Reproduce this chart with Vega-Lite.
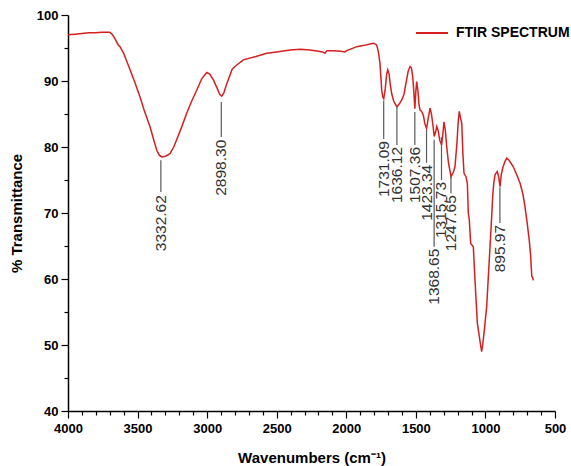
{
  "$schema": "https://vega.github.io/schema/vega-lite/v6.json",
  "width": 487,
  "height": 396,
  "autosize": {"type": "none"},
  "padding": {"left": 68, "top": 15, "right": 16, "bottom": 55},
  "background": "white",
  "config": {
    "view": {"stroke": null},
    "axis": {
      "grid": false,
      "domainColor": "black",
      "domainWidth": 1.5,
      "tickColor": "black",
      "tickWidth": 1.2,
      "labelFont": "Liberation Sans",
      "labelFontWeight": "bold",
      "labelFontSize": 13,
      "labelColor": "black",
      "labelFlush": false,
      "labelOverlap": false,
      "titleFont": "Liberation Sans",
      "titleFontWeight": "bold",
      "titleFontSize": 15,
      "titleColor": "black"
    }
  },
  "datasets": {
    "spectrum": [
      {"wn": 4000, "t": 97.0}, {"wn": 3950, "t": 97.1}, {"wn": 3900, "t": 97.2}, {"wn": 3850, "t": 97.3},
      {"wn": 3800, "t": 97.3}, {"wn": 3760, "t": 97.4}, {"wn": 3720, "t": 97.4}, {"wn": 3700, "t": 97.4},
      {"wn": 3680, "t": 97.0}, {"wn": 3660, "t": 96.3}, {"wn": 3640, "t": 95.5}, {"wn": 3626, "t": 95.2},
      {"wn": 3600, "t": 94.2}, {"wn": 3554, "t": 91.7}, {"wn": 3520, "t": 89.8}, {"wn": 3483, "t": 87.6},
      {"wn": 3450, "t": 85.4}, {"wn": 3411, "t": 83.1}, {"wn": 3380, "t": 80.8}, {"wn": 3362, "t": 79.5},
      {"wn": 3345, "t": 78.8}, {"wn": 3327, "t": 78.5}, {"wn": 3300, "t": 78.6}, {"wn": 3267, "t": 79.0},
      {"wn": 3240, "t": 80.0}, {"wn": 3219, "t": 81.1}, {"wn": 3180, "t": 83.2}, {"wn": 3147, "t": 85.1},
      {"wn": 3110, "t": 87.0}, {"wn": 3075, "t": 88.6}, {"wn": 3040, "t": 90.3}, {"wn": 3003, "t": 91.3},
      {"wn": 2980, "t": 91.0}, {"wn": 2956, "t": 90.2}, {"wn": 2930, "t": 89.0}, {"wn": 2910, "t": 88.0},
      {"wn": 2895, "t": 87.7}, {"wn": 2880, "t": 88.2}, {"wn": 2865, "t": 89.2}, {"wn": 2848, "t": 90.2},
      {"wn": 2820, "t": 91.8}, {"wn": 2800, "t": 92.2}, {"wn": 2740, "t": 93.2}, {"wn": 2650, "t": 93.7},
      {"wn": 2572, "t": 94.2}, {"wn": 2500, "t": 94.4}, {"wn": 2404, "t": 94.7}, {"wn": 2330, "t": 94.8},
      {"wn": 2261, "t": 94.7}, {"wn": 2200, "t": 94.5}, {"wn": 2170, "t": 94.4}, {"wn": 2153, "t": 94.2},
      {"wn": 2140, "t": 94.6}, {"wn": 2093, "t": 94.6}, {"wn": 2040, "t": 94.5}, {"wn": 2010, "t": 94.4},
      {"wn": 1997, "t": 94.6}, {"wn": 1960, "t": 94.9}, {"wn": 1925, "t": 95.2}, {"wn": 1870, "t": 95.4},
      {"wn": 1830, "t": 95.6}, {"wn": 1806, "t": 95.7}, {"wn": 1790, "t": 95.6}, {"wn": 1781, "t": 95.4},
      {"wn": 1770, "t": 94.5}, {"wn": 1758, "t": 92.7}, {"wn": 1745, "t": 88.5}, {"wn": 1738, "t": 87.6},
      {"wn": 1731, "t": 87.3}, {"wn": 1720, "t": 88.8}, {"wn": 1710, "t": 91.0}, {"wn": 1702, "t": 91.7},
      {"wn": 1692, "t": 91.0}, {"wn": 1684, "t": 89.5}, {"wn": 1674, "t": 88.1}, {"wn": 1660, "t": 87.0},
      {"wn": 1645, "t": 86.4}, {"wn": 1636, "t": 86.1}, {"wn": 1620, "t": 86.5}, {"wn": 1602, "t": 87.1},
      {"wn": 1585, "t": 88.0}, {"wn": 1570, "t": 89.8}, {"wn": 1555, "t": 91.5}, {"wn": 1542, "t": 92.2},
      {"wn": 1532, "t": 92.0}, {"wn": 1523, "t": 90.7}, {"wn": 1515, "t": 88.5}, {"wn": 1507, "t": 85.8},
      {"wn": 1500, "t": 88.5}, {"wn": 1494, "t": 89.9}, {"wn": 1485, "t": 88.5}, {"wn": 1478, "t": 86.5},
      {"wn": 1470, "t": 85.6}, {"wn": 1458, "t": 85.4}, {"wn": 1446, "t": 84.8}, {"wn": 1435, "t": 83.5},
      {"wn": 1423, "t": 82.8}, {"wn": 1410, "t": 84.5}, {"wn": 1398, "t": 85.9}, {"wn": 1388, "t": 85.0},
      {"wn": 1379, "t": 83.6}, {"wn": 1368, "t": 81.6}, {"wn": 1358, "t": 82.3}, {"wn": 1350, "t": 83.1},
      {"wn": 1340, "t": 82.5}, {"wn": 1328, "t": 81.0}, {"wn": 1315, "t": 80.3}, {"wn": 1306, "t": 82.0},
      {"wn": 1298, "t": 83.8}, {"wn": 1288, "t": 82.5}, {"wn": 1278, "t": 80.0}, {"wn": 1265, "t": 77.5},
      {"wn": 1247, "t": 75.5}, {"wn": 1230, "t": 76.2}, {"wn": 1219, "t": 77.0}, {"wn": 1205, "t": 80.5},
      {"wn": 1195, "t": 84.0}, {"wn": 1188, "t": 85.4}, {"wn": 1180, "t": 84.5}, {"wn": 1170, "t": 83.6},
      {"wn": 1162, "t": 79.0}, {"wn": 1154, "t": 76.0}, {"wn": 1140, "t": 75.5}, {"wn": 1130, "t": 74.5},
      {"wn": 1123, "t": 70.0}, {"wn": 1116, "t": 69.0}, {"wn": 1106, "t": 65.4}, {"wn": 1087, "t": 64.9},
      {"wn": 1075, "t": 59.8}, {"wn": 1065, "t": 56.0}, {"wn": 1058, "t": 53.3}, {"wn": 1044, "t": 51.3},
      {"wn": 1035, "t": 50.0}, {"wn": 1027, "t": 49.0}, {"wn": 1020, "t": 50.0}, {"wn": 1010, "t": 51.8},
      {"wn": 991, "t": 55.8}, {"wn": 980, "t": 60.0}, {"wn": 967, "t": 64.9}, {"wn": 955, "t": 69.5},
      {"wn": 948, "t": 72.5}, {"wn": 940, "t": 74.5}, {"wn": 931, "t": 75.8}, {"wn": 915, "t": 76.3},
      {"wn": 905, "t": 75.5}, {"wn": 895, "t": 74.0}, {"wn": 886, "t": 75.8}, {"wn": 876, "t": 76.8},
      {"wn": 860, "t": 77.8}, {"wn": 847, "t": 78.3}, {"wn": 830, "t": 78.0}, {"wn": 815, "t": 77.5},
      {"wn": 800, "t": 77.0}, {"wn": 775, "t": 75.8}, {"wn": 751, "t": 74.5}, {"wn": 730, "t": 72.8},
      {"wn": 716, "t": 71.0}, {"wn": 700, "t": 68.5}, {"wn": 685, "t": 65.9}, {"wn": 675, "t": 63.5},
      {"wn": 667, "t": 60.4}, {"wn": 660, "t": 60.2}, {"wn": 656, "t": 59.8}
    ],
    "peaks": [
      {"wn": 3332.62, "label": "3332.62", "t": 78.0, "b": 73.2, "lt": 72.7},
      {"wn": 2898.30, "label": "2898.30", "t": 86.8, "b": 81.5, "lt": 81.1},
      {"wn": 1731.09, "label": "1731.09", "t": 87.0, "b": 81.2, "lt": 80.9},
      {"wn": 1636.12, "label": "1636.12", "t": 86.1, "b": 80.3, "lt": 80.0},
      {"wn": 1507.36, "label": "1507.36", "t": 85.3, "b": 80.3, "lt": 80.0},
      {"wn": 1423.34, "label": "1423.34", "t": 82.6, "b": 77.6, "lt": 77.3},
      {"wn": 1368.65, "label": "1368.65", "t": 81.1, "b": 64.9, "lt": 64.6},
      {"wn": 1315.73, "label": "1315.73", "t": 81.5, "b": 75.0, "lt": 74.7},
      {"wn": 1247.65, "label": "1247.65", "t": 75.5, "b": 73.0, "lt": 72.7},
      {"wn": 895.97, "label": "895.97", "t": 73.9, "b": 68.5, "lt": 68.2}
    ]
  },
  "encoding": {
    "x": {
      "field": "wn",
      "type": "quantitative",
      "title": "Wavenumbers (cm⁻¹)",
      "scale": {"domain": [500, 4000], "reverse": true, "nice": false, "zero": false},
      "axis": {
        "values": [500, 600, 700, 800, 900, 1000, 1100, 1200, 1300, 1400, 1500, 1600, 1700, 1800, 1900, 2000, 2100, 2200, 2300, 2400, 2500, 2600, 2700, 2800, 2900, 3000, 3100, 3200, 3300, 3400, 3500, 3600, 3700, 3800, 3900, 4000],
        "format": "d",
        "labelExpr": "datum.value % 500 === 0 ? datum.label : ''",
        "tickSize": {"condition": {"test": "datum.value % 500 === 0", "value": 7}, "value": 4},
        "labelPadding": 4,
        "titlePadding": 15
      }
    },
    "y": {
      "field": "t",
      "type": "quantitative",
      "title": "% Transmittance",
      "scale": {"domain": [40, 100], "nice": false, "zero": false},
      "axis": {
        "values": [40, 45, 50, 55, 60, 65, 70, 75, 80, 85, 90, 95, 100],
        "format": "d",
        "labelExpr": "datum.value % 10 === 0 ? datum.label : ''",
        "tickSize": {"condition": {"test": "datum.value % 10 === 0", "value": 7}, "value": 4},
        "labelPadding": 3,
        "titlePadding": 12
      }
    }
  },
  "layer": [
    {
      "data": {"name": "spectrum"},
      "mark": {"type": "line", "strokeWidth": 1.5},
      "encoding": {
        "color": {
          "datum": "FTIR SPECTRUM",
          "scale": {"range": ["#d42020"]},
          "legend": {
            "orient": "none",
            "legendX": 347,
            "legendY": 1,
            "title": null,
            "padding": 0,
            "symbolType": "stroke",
            "symbolSize": 1024,
            "symbolStrokeWidth": 2,
            "labelOffset": 7,
            "labelFont": "Liberation Sans",
            "labelFontSize": 14,
            "labelFontWeight": "bold",
            "labelColor": "black",
            "labelLimit": 0
          }
        }
      }
    },
    {
      "data": {"name": "peaks"},
      "mark": {"type": "rule", "color": "#5a5a5a", "strokeWidth": 1.2},
      "encoding": {
        "y2": {"field": "b"}
      }
    },
    {
      "data": {"name": "peaks"},
      "mark": {"type": "text", "angle": 270, "align": "right", "baseline": "middle", "font": "Liberation Sans", "fontSize": 15.5, "color": "#333333"},
      "encoding": {
        "y": {"field": "lt", "type": "quantitative", "title": "% Transmittance"},
        "text": {"field": "label"}
      }
    }
  ]
}
